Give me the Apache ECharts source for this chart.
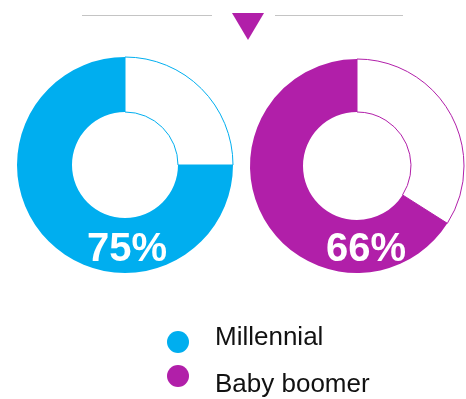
<!DOCTYPE html>
<html>
<head>
<meta charset="utf-8">
<script src="https://cdn.jsdelivr.net/npm/echarts@6/dist/echarts.min.js"></script>
<style>
  html, body { margin: 0; padding: 0; background: #fff; }
  #chart { width: 466px; height: 399px; }
</style>
</head>
<body>
<div id="chart"></div>
<script>
// data
const groups = ['Millennial', 'Baby boomer']
const shares = [75, 66]
const colors = ['#00AEEF', '#B11FA9']

// layout of the two donuts
const centers = [[125, 165], [357, 166]]
const radii = [[53, 108], [54, 107]]
const font = '"Liberation Sans", Arial, sans-serif'

const series = groups.map((name, i) => {
  return {
    type: 'pie',
    center: centers[i],
    radius: radii[i],
    startAngle: 90,
    clockwise: true,
    silent: true,
    label: { show: false },
    labelLine: { show: false },
    data: [
      {
        name: 'rest-' + i,
        value: 100 - shares[i],
        itemStyle: { color: '#fff', borderColor: colors[i], borderWidth: 1 }
      },
      {
        name: name,
        value: shares[i],
        itemStyle: { color: colors[i], borderWidth: 0 }
      }
    ]
  }
})

// percent labels at bottom of each ring
const valueTexts = groups.map((name, i) => {
  return {
    type: 'text',
    z: 100,
    left: i === 0 ? 87 : 326,
    top: 230,
    style: {
      text: shares[i] + '%',
      fill: '#fff',
      font: 'bold 40px ' + font
    }
  }
})

// one legend per group so each text can sit a bit differently
const legendShift = [[0, 0, 8, 21], [18, 0, 0, 21]]
const legendTop = [320, 360]
const legends = groups.map((name, i) => {
  return {
    data: [name],
    orient: 'vertical',
    left: 162,
    top: legendTop[i],
    icon: 'circle',
    itemWidth: 22,
    itemHeight: 22,
    selectedMode: false,
    formatter: n => '{t|' + n + '}',
    textStyle: {
      rich: {
        t: { fontSize: 26, color: '#111', fontFamily: font, padding: legendShift[i] }
      }
    }
  }
})

const chart = echarts.init(document.getElementById('chart'))
chart.setOption({
  animation: false,
  color: colors,
  legend: legends,
  graphic: [
    {
      type: 'line',
      shape: { x1: 82, y1: 15.5, x2: 212, y2: 15.5 },
      style: { stroke: '#c4c4c4', lineWidth: 1 }
    },
    {
      type: 'line',
      shape: { x1: 275, y1: 15.5, x2: 403, y2: 15.5 },
      style: { stroke: '#c4c4c4', lineWidth: 1 }
    },
    {
      type: 'polygon',
      shape: { points: [[232, 13], [264, 13], [248, 40]] },
      style: { fill: colors[1] }
    }
  ].concat(valueTexts),
  series: series
})
</script>
</body>
</html>
